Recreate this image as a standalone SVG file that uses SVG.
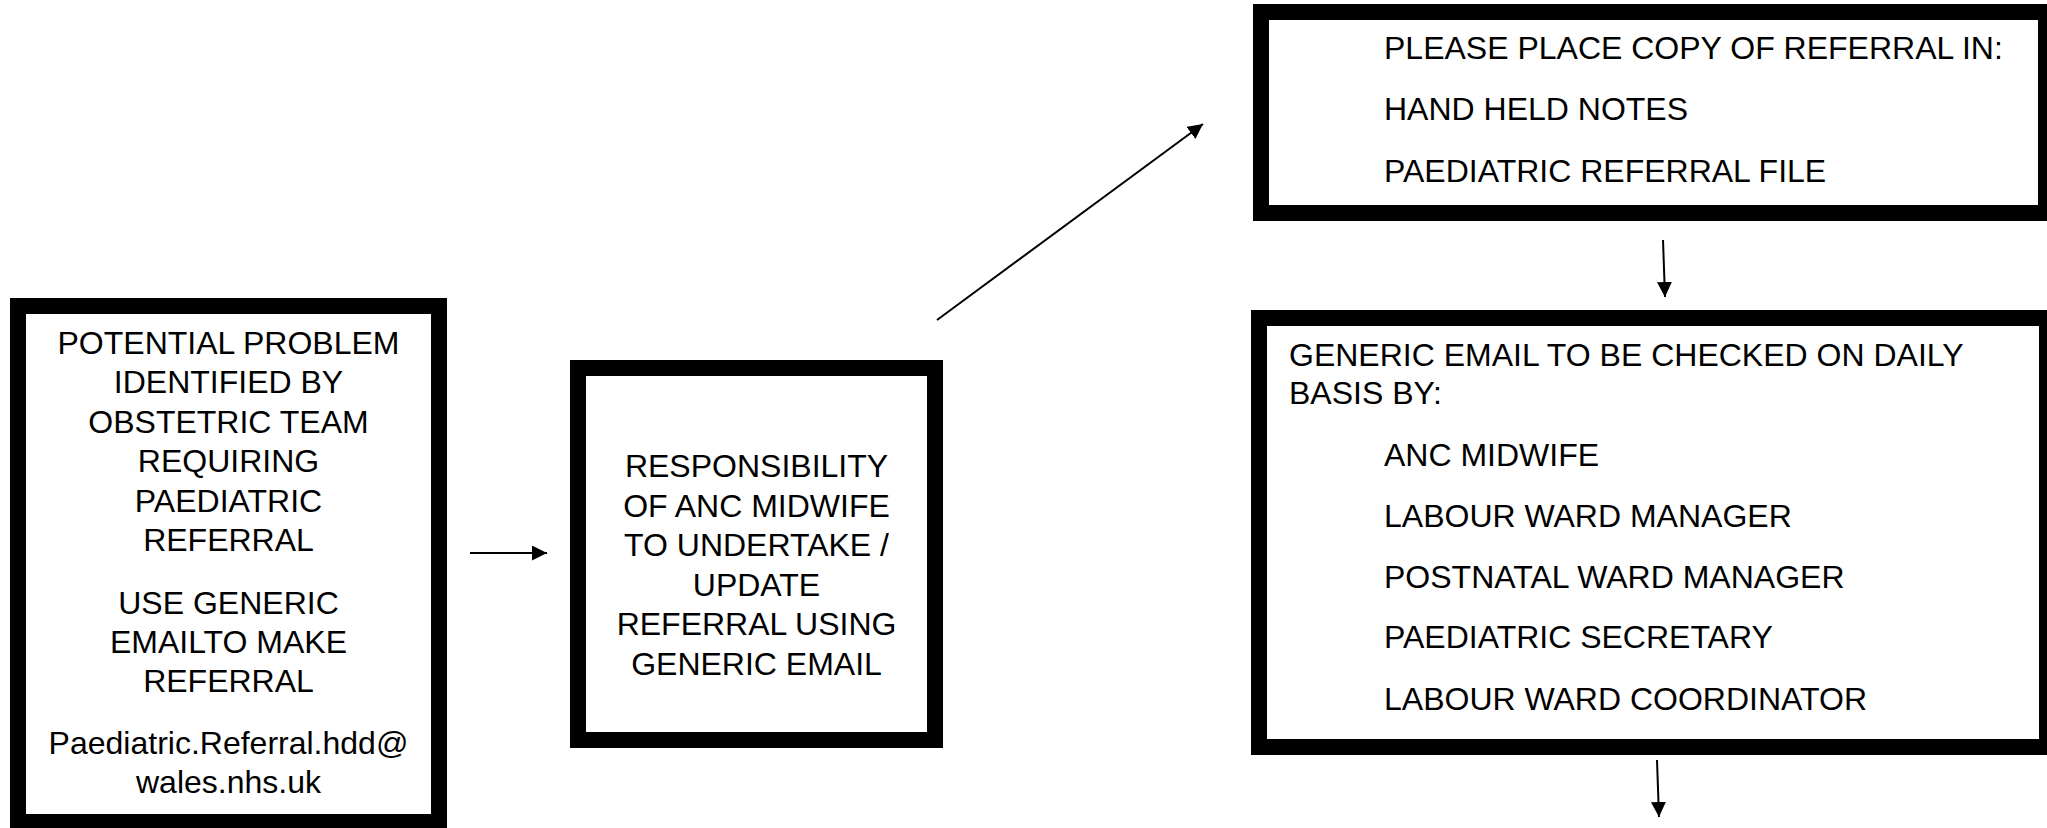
<svg xmlns="http://www.w3.org/2000/svg" width="2047" height="828" viewBox="0 0 2047 828">
<style>
.box{fill:#fff;stroke:#000;stroke-width:16}
.t{font-family:"Liberation Sans",Arial,sans-serif;font-size:32px;fill:#000}
.c{text-anchor:middle}
.conn{stroke:#000;stroke-width:2;fill:none}
</style>
<defs>
<marker id="ah" markerUnits="userSpaceOnUse" markerWidth="16" markerHeight="16" refX="15" refY="7.5" orient="auto">
<path d="M0,0 L15,7.5 L0,15 z" fill="#000"/>
</marker>
</defs>
<rect width="2047" height="828" fill="#fff"/>
<g id="node-problem">
<rect class="box" x="18" y="306" width="421" height="516"/>
<text class="t c" x="228.5" y="354">POTENTIAL PROBLEM</text>
<text class="t c" x="228.5" y="393.4">IDENTIFIED BY</text>
<text class="t c" x="228.5" y="432.8">OBSTETRIC TEAM</text>
<text class="t c" x="228.5" y="472.2">REQUIRING</text>
<text class="t c" x="228.5" y="511.6">PAEDIATRIC</text>
<text class="t c" x="228.5" y="551">REFERRAL</text>
<text class="t c" x="228.5" y="613.5">USE GENERIC</text>
<text class="t c" x="228.5" y="652.9">EMAILTO MAKE</text>
<text class="t c" x="228.5" y="692.3">REFERRAL</text>
<text class="t c" x="228.5" y="754">Paediatric.Referral.hdd@</text>
<text class="t c" x="228.5" y="793.4">wales.nhs.uk</text>
</g>
<g id="node-responsibility">
<rect class="box" x="578" y="368" width="357" height="372"/>
<text class="t c" x="756.5" y="477">RESPONSIBILITY</text>
<text class="t c" x="756.5" y="516.6">OF ANC MIDWIFE</text>
<text class="t c" x="756.5" y="556.2">TO UNDERTAKE /</text>
<text class="t c" x="756.5" y="595.8">UPDATE</text>
<text class="t c" x="756.5" y="635.4">REFERRAL USING</text>
<text class="t c" x="756.5" y="675">GENERIC EMAIL</text>
</g>
<g id="node-copy">
<rect class="box" x="1261" y="12" width="785" height="201"/>
<text class="t" x="1384" y="59">PLEASE PLACE COPY OF REFERRAL IN:</text>
<text class="t" x="1384" y="120">HAND HELD NOTES</text>
<text class="t" x="1384" y="182">PAEDIATRIC REFERRAL FILE</text>
</g>
<g id="node-email">
<rect class="box" x="1259" y="318" width="788" height="429"/>
<text class="t" x="1289" y="366">GENERIC EMAIL TO BE CHECKED ON DAILY</text>
<text class="t" x="1289" y="404">BASIS BY:</text>
<text class="t" x="1384" y="466">ANC MIDWIFE</text>
<text class="t" x="1384" y="527">LABOUR WARD MANAGER</text>
<text class="t" x="1384" y="588">POSTNATAL WARD MANAGER</text>
<text class="t" x="1384" y="648">PAEDIATRIC SECRETARY</text>
<text class="t" x="1384" y="710">LABOUR WARD COORDINATOR</text>
</g>
<g id="connectors">
<line class="conn" x1="470" y1="553" x2="547" y2="553" marker-end="url(#ah)"/>
<line class="conn" x1="937" y1="320" x2="1203" y2="124" marker-end="url(#ah)"/>
<line class="conn" x1="1663" y1="240" x2="1665" y2="297" marker-end="url(#ah)"/>
<line class="conn" x1="1657" y1="760" x2="1659" y2="817" marker-end="url(#ah)"/>
</g>
</svg>
